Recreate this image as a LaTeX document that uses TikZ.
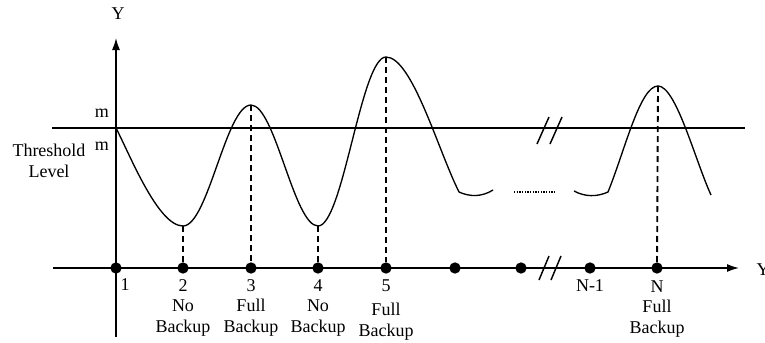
\documentclass[tikz,border=0pt]{standalone}
\usepackage{fontspec}
\setmainfont{Liberation Serif}
\usetikzlibrary{arrows.meta}

\begin{document}
\begin{tikzpicture}[x=0.75pt, y=-0.75pt, font=\fontsize{13.5}{16}\selectfont,
  axis/.style={line width=1.1pt},
  wave/.style={line width=1pt},
  drop/.style={line width=1.4pt, dash pattern=on 4.5pt off 3pt},
  dot/.style={circle, fill, inner sep=0pt, minimum size=8.5pt},
  lbl/.style={align=center, inner sep=0pt}]
  \useasboundingbox (0,0) rectangle (765,343);

  % Y axis
  \coordinate (ybot) at (116,337);
  \coordinate (ytop) at (116,38);
  \draw[axis, -{Latex[length=9pt, width=6pt]}] (ybot) -- (ytop);
  \node (ylab) at (118,14) {Y};

  % X axis, with its break mark
  \coordinate (xl) at (53,268);
  \coordinate (xr) at (739,268);
  \draw[axis, -{Latex[length=9pt, width=6pt]}] (xl) -- (xr);
  \node[anchor=west] (xlab) at (752,270) {Y};
  \draw[axis] (539,280) -- (549,256) (551,280) -- (561,256);

  % threshold level, with its break mark
  \coordinate (tl) at (52,128);
  \coordinate (tr) at (745,128);
  \draw[axis] (tl) -- (tr);
  \draw[axis] (537,144) -- (549,117) (550,144) -- (562,117);
  \node (mup) at (102,113) {m};
  \node (mdown) at (102,146) {m};
  \node[lbl] (thr) at (49,161) {Threshold\\Level};

  % points on the X axis
  \foreach \i/\x in {1/116, 2/183, 3/251, 4/318, 5/386, 6/455, 7/521, 8/590, 9/657}
    \node[dot] (d\i) at (\x,268) {};

  % extrema of the curve
  \coordinate (m2) at (183,226);
  \coordinate (p3) at (251,105);
  \coordinate (m4) at (318,226);
  \coordinate (p5) at (386,57);
  \coordinate (pN) at (658,86);

  % the curve, left part
  \draw[wave] (116,128) .. controls (130,155) and (158,226) .. (m2)
    .. controls (208,226) and (226,105) .. (p3)
    .. controls (275,105) and (294,226) .. (m4)
    .. controls (343,226) and (361,57) .. (p5)
    .. controls (412,57) and (438,150) .. (459,192)
    .. controls (470,197) and (482,197) .. (493,190);

  % gap
  \draw[line width=1pt, dash pattern=on 1pt off 1pt] (514,192) -- (556,192);

  % the curve, right part
  \draw[wave] (574,191) .. controls (585,197) and (597,197) .. (608,192)
    .. controls (625,150) and (640,86) .. (pN)
    .. controls (676,86) and (695,160) .. (711,195);

  % dashed drops to the axis
  \draw[drop] (m2) -- (d2);
  \draw[drop] (p3) -- (d3);
  \draw[drop] (m4) -- (d4);
  \draw[drop] (p5) -- (d5);
  \draw[drop] (pN) -- (d9);

  % labels
  \node (n1) at (125,285) {1};
  \node (n2) at (183,286) {2};
  \node[lbl] (b2) at (183,318) {No\\Backup};
  \node (n3) at (251,286) {3};
  \node[lbl] (b3) at (251,318) {Full\\Backup};
  \node (n4) at (318,286) {4};
  \node[lbl] (b4) at (318,318) {No\\Backup};
  \node (n5) at (386,286) {5};
  \node[lbl] (b5) at (386,322) {Full\\Backup};
  \node (nN1) at (590,286) {N-1};
  \node (nN) at (657,287) {N};
  \node[lbl] (bN) at (657,319) {Full\\Backup};

\end{tikzpicture}
\end{document}
